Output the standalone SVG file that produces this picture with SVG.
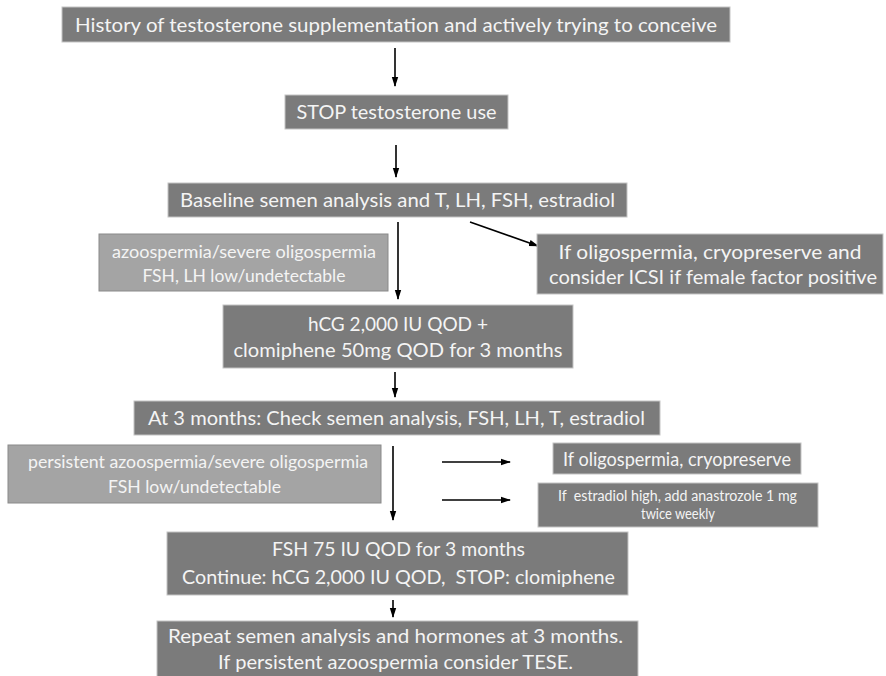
<svg xmlns="http://www.w3.org/2000/svg" width="886" height="676" viewBox="0 0 886 676">
<style>
.dk{fill:#7b7b7b;stroke:#c4c4c4;stroke-width:1}
.lt{fill:#a4a4a4;stroke:#8a8a8a;stroke-width:1}
text{font-family:Lato,"Open Sans","Liberation Sans",sans-serif;fill:#f4f4f4;text-anchor:middle;white-space:pre}
.f18{font-size:20px}
.f16{font-size:18px}
.f13{font-size:14.5px}
.c line{stroke:#000;stroke-width:1.6;marker-end:url(#ah)}
</style>
<defs>
<marker id="ah" markerUnits="userSpaceOnUse" markerWidth="10" markerHeight="10" viewBox="0 0 10 10" refX="9" refY="5" orient="auto">
<path d="M0,1.8 L10,5 L0,8.2 Z" fill="#000"/>
</marker>
</defs>
<rect width="886" height="676" fill="#ffffff"/>
<g id="connectors" class="c">
<line x1="395" y1="48" x2="395" y2="86"/>
<line x1="396" y1="145" x2="396" y2="177"/>
<line x1="398" y1="222" x2="398" y2="299"/>
<line x1="470" y1="222" x2="538" y2="246"/>
<line x1="395" y1="372" x2="395" y2="397"/>
<line x1="393" y1="446" x2="393" y2="520"/>
<line x1="442" y1="462" x2="510" y2="462"/>
<line x1="442" y1="500" x2="510" y2="500"/>
<line x1="393" y1="600" x2="393" y2="617"/>
</g>
<g id="n-history">
<rect class="dk" x="62" y="7" width="668" height="35"/>
<text class="f18" x="396" y="31.5" textLength="642" lengthAdjust="spacingAndGlyphs">History of testosterone supplementation and actively trying to conceive</text>
</g>
<g id="n-stop">
<rect class="dk" x="285" y="95" width="223" height="34"/>
<text class="f18" x="396.5" y="119" textLength="200" lengthAdjust="spacingAndGlyphs">STOP testosterone use</text>
</g>
<g id="n-baseline">
<rect class="dk" x="168" y="183" width="459" height="34"/>
<text class="f18" x="397.5" y="207" textLength="435" lengthAdjust="spacingAndGlyphs">Baseline semen analysis and T, LH, FSH, estradiol</text>
</g>
<g id="n-azoo">
<rect class="lt" x="99" y="234" width="289" height="57"/>
<text class="f16" x="244" y="257.5" textLength="264" lengthAdjust="spacingAndGlyphs">azoospermia/severe oligospermia</text>
<text class="f16" x="244" y="281.5" textLength="203" lengthAdjust="spacingAndGlyphs">FSH, LH low/undetectable</text>
</g>
<g id="n-cryo1">
<rect class="dk" x="537" y="234" width="346" height="60"/>
<text class="f18" x="710" y="258.5" textLength="303" lengthAdjust="spacingAndGlyphs">If oligospermia, cryopreserve and</text>
<text class="f18" x="713" y="283.5" textLength="328" lengthAdjust="spacingAndGlyphs">consider ICSI if female factor positive</text>
</g>
<g id="n-hcg">
<rect class="dk" x="223" y="305" width="350" height="63"/>
<text class="f18" x="398" y="330.5" textLength="180" lengthAdjust="spacingAndGlyphs">hCG 2,000 IU QOD +</text>
<text class="f18" x="398" y="356.5" textLength="329" lengthAdjust="spacingAndGlyphs">clomiphene 50mg QOD for 3 months</text>
</g>
<g id="n-at3">
<rect class="dk" x="134" y="401" width="526" height="34"/>
<text class="f18" x="396.5" y="425" textLength="497" lengthAdjust="spacingAndGlyphs">At 3 months: Check semen analysis, FSH, LH, T, estradiol</text>
</g>
<g id="n-persist">
<rect class="lt" x="8" y="445" width="373" height="58"/>
<text class="f16" x="198" y="467.5" textLength="340" lengthAdjust="spacingAndGlyphs">persistent azoospermia/severe oligospermia</text>
<text class="f16" x="194.5" y="492.5" textLength="173" lengthAdjust="spacingAndGlyphs">FSH low/undetectable</text>
</g>
<g id="n-cryo2">
<rect class="dk" x="553" y="443" width="248" height="31"/>
<text class="f18" x="677" y="465.5" textLength="228" lengthAdjust="spacingAndGlyphs">If oligospermia, cryopreserve</text>
</g>
<g id="n-anastrozole">
<rect class="dk" x="538" y="483" width="280" height="44"/>
<text class="f13" x="677.5" y="501" textLength="239" lengthAdjust="spacingAndGlyphs">If  estradiol high, add anastrozole 1 mg</text>
<text class="f13" x="678" y="519" textLength="74" lengthAdjust="spacingAndGlyphs">twice weekly</text>
</g>
<g id="n-fsh">
<rect class="dk" x="167" y="532" width="461" height="63"/>
<text class="f18" x="398.5" y="555.5" textLength="253" lengthAdjust="spacingAndGlyphs">FSH 75 IU QOD for 3 months</text>
<text class="f18" x="398.5" y="583.5" textLength="433" lengthAdjust="spacingAndGlyphs">Continue: hCG 2,000 IU QOD,  STOP: clomiphene</text>
</g>
<g id="n-repeat">
<rect class="dk" x="157" y="621" width="481" height="60"/>
<text class="f18" x="395.5" y="642.5" textLength="455" lengthAdjust="spacingAndGlyphs">Repeat semen analysis and hormones at 3 months.</text>
<text class="f18" x="395.5" y="668.5" textLength="355" lengthAdjust="spacingAndGlyphs">If persistent azoospermia consider TESE.</text>
</g>
</svg>
